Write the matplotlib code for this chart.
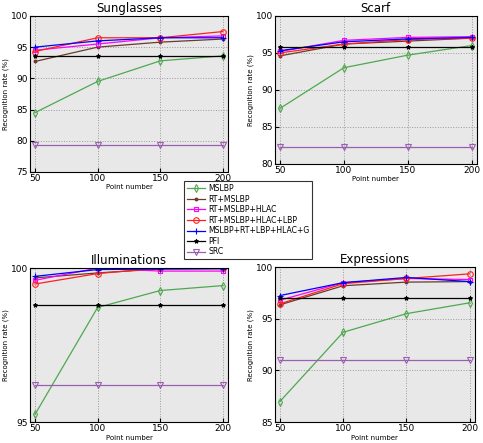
import numpy as np
import matplotlib
matplotlib.use('Agg')
import matplotlib.pyplot as plt

points = [50, 100, 150, 200]
methods = ['MSLBP', 'RT+MSLBP', 'RT+MSLBP+HLAC', 'RT+MSLBP+HLAC+LBP',
           'MSLBP+RT+LBP+HLAC+G', 'PFI', 'SRC']

# recognition rates (%) per dataset, one row per method
sunglasses = [
    [84.5, 89.5, 92.8, 93.6],
    [92.7, 95.0, 95.8, 96.3],
    [94.5, 95.5, 96.5, 96.8],
    [94.3, 96.5, 96.5, 97.5],
    [95.0, 96.0, 96.5, 96.5],
    [93.5, 93.5, 93.5, 93.5],
    [79.3, 79.3, 79.3, 79.3],
]
scarf = [
    [87.5, 93.0, 94.7, 96.0],
    [94.6, 96.2, 96.6, 97.0],
    [95.2, 96.7, 97.1, 97.2],
    [95.0, 96.2, 96.8, 97.0],
    [95.3, 96.5, 96.9, 97.1],
    [95.8, 95.8, 95.8, 95.8],
    [82.3, 82.3, 82.3, 82.3],
]
illuminations = [
    [95.25, 98.72, 99.27, 99.43],
    [99.68, 99.84, 99.97, 99.98],
    [99.6, 100.0, 99.9, 99.9],
    [99.48, 99.82, 100.0, 100.0],
    [99.73, 99.95, 99.97, 99.98],
    [98.8, 98.8, 98.8, 98.8],
    [96.2, 96.2, 96.2, 96.2],
]
expressions = [
    [87.0, 93.7, 95.5, 96.55],
    [96.35, 98.2, 98.55, 98.6],
    [96.8, 98.5, 98.9, 98.8],
    [96.45, 98.4, 98.9, 99.35],
    [97.25, 98.5, 99.0, 98.6],
    [97.0, 97.0, 97.0, 97.0],
    [91.0, 91.0, 91.0, 91.0],
]

colors = ['#4fa84f', '#6b3b2b', '#ff00ff', '#ff2020', '#0000ff', '#000000', '#9b5fb0']
markers = ['d', '.', 's', 'o', '+', '*', 'v']
msizes = [4, 4, 3.5, 4, 4.5, 3, 4]

fig = plt.figure(figsize=(4.83, 4.43), dpi=100)

panels = [
    ('Sunglasses', sunglasses, [0.062, 0.612, 0.410, 0.352], (75, 100), [75, 80, 85, 90, 95, 100]),
    ('Scarf', scarf, [0.569, 0.630, 0.418, 0.334], (80, 100), [80, 85, 90, 95, 100]),
    ('Illuminations', illuminations, [0.062, 0.047, 0.410, 0.348], (95, 100), [95, 100]),
    ('Expressions', expressions, [0.569, 0.047, 0.414, 0.350], (85, 100), [85, 90, 95, 100]),
]

handles = None
for title, data, pos, ylim, yticks in panels:
    ax = fig.add_axes(pos)
    ax.set_facecolor('#e8e8e8')
    lines = []
    for i in range(len(methods)):
        ln, = ax.plot(points, data[i], color=colors[i], marker=markers[i],
                      markersize=msizes[i], markerfacecolor='none' if markers[i] in 'dsov' else colors[i],
                      markeredgecolor=colors[i], markeredgewidth=0.8, linewidth=0.9,
                      label=methods[i])
        lines.append(ln)
    handles = lines
    ax.set_xlim(46, 204)
    ax.set_ylim(ylim)
    ax.set_xticks(points)
    ax.set_yticks(yticks)
    ax.tick_params(direction='in', labelsize=6.5, length=3, pad=1.5)
    ax.grid(True, linestyle=':', color='#999999', linewidth=0.7)
    ax.set_title(title, fontsize=8.5, pad=3)
    ax.set_xlabel('Point number', fontsize=5, labelpad=1)
    ax.set_ylabel('Recognition rate (%)', fontsize=5, labelpad=1)

leg = fig.legend(handles, methods, loc='center', bbox_to_anchor=(0.514, 0.503),
                 fontsize=5.6, frameon=True, fancybox=False, edgecolor='black',
                 handlelength=2.4, labelspacing=0.2, borderpad=0.35, handletextpad=0.4)
leg.get_frame().set_linewidth(0.8)

plt.savefig('out.png', dpi=100)
plt.close()
